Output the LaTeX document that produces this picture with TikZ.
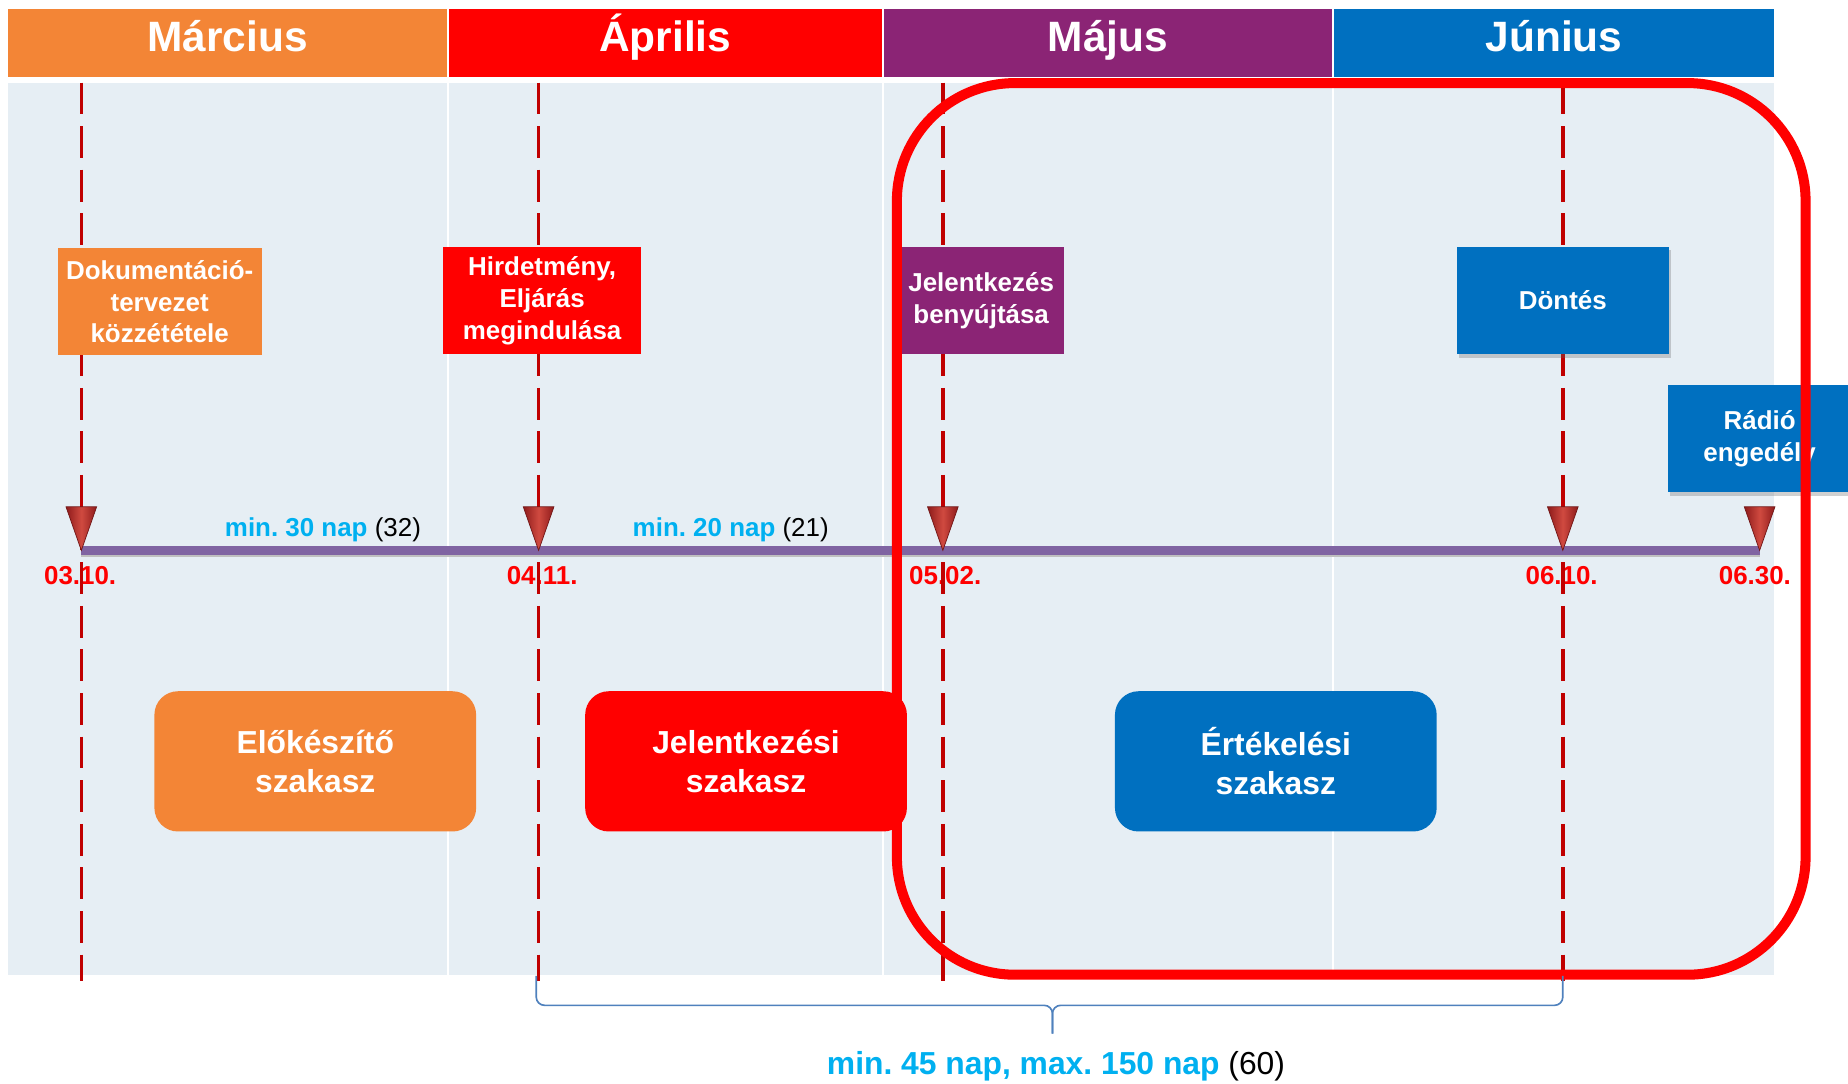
\documentclass[tikz,border=0pt]{standalone}
\usepackage{fontspec}
\setmainfont{Liberation Sans}
\usetikzlibrary{shadows}
\frenchspacing
\definecolor{morange}{HTML}{F38536}
\definecolor{mred}{HTML}{FF0000}
\definecolor{mpurple}{HTML}{8B2475}
\definecolor{mblue}{HTML}{0070C0}
\definecolor{panel}{HTML}{E6EEF4}
\definecolor{ddred}{HTML}{C00000}
\definecolor{tline}{HTML}{8064A2}
\definecolor{cyantext}{HTML}{00B0F0}
\definecolor{bracecol}{HTML}{4F81BD}
\definecolor{trilight}{HTML}{D04A40}
\definecolor{tridark}{HTML}{8E1B1B}
\begin{document}
\begin{tikzpicture}[x=1pt,y=-1pt,
  month/.style={font=\fontsize{36}{40}\selectfont\bfseries, text=white, anchor=base},
  evbox/.style={font=\fontsize{22}{27}\selectfont\bfseries, text=white, align=center, inner sep=0pt, minimum height=91pt},
  phasebox/.style={rounded corners=20pt, font=\fontsize{27}{33}\selectfont\bfseries, text=white, align=center, inner sep=0pt, minimum width=273pt, minimum height=119pt},
  datelbl/.style={font=\fontsize{22}{26}\selectfont\bfseries, text=mred, anchor=base},
  durlbl/.style={font=\fontsize{22}{26}\selectfont\bfseries, text=cyantext, anchor=base},
  vdash/.style={ddred, line width=3pt, dash pattern=on 27pt off 10pt},
  shad/.style={drop shadow={shadow xshift=2pt, shadow yshift=-3pt, opacity=0.3, fill=black!60}},
  marker/.pic={\shade[left color=tridark, right color=tridark, middle color=trilight] (-13,-37) -- (13,-37) -- (0,0) -- cycle;
               \draw[tridark!80!black, line width=0.6pt] (-13,-37) -- (13,-37) -- (0,0) -- cycle;}
]
\useasboundingbox (0,0) rectangle (1568,919);
\clip (0,0) rectangle (1568,919);
\fill[white] (0,0) rectangle (1568,919);

% month header bars
\fill[morange] (7,8) rectangle (379,65);
\fill[mred] (381,8) rectangle (748,65);
\fill[mpurple] (750,8) rectangle (1130,65);
\fill[mblue] (1132,8) rectangle (1505,65);
\node[month] (mar) at (193,43.5) {Március};
\node[month] (apr) at (564.5,43.5) {Április};
\node[month] (maj) at (940,43.5) {Május};
\node[month] (jun) at (1318.5,43.5) {Június};

% panel
\fill[panel] (7,70) rectangle (1505,827);
\draw[white, line width=2pt] (380,70) -- (380,827);
\draw[white, line width=2pt] (749,70) -- (749,827);
\draw[white, line width=2pt] (1131,70) -- (1131,827);

% date labels
\node[datelbl] (d1) at (68,496) {03.10.};
\node[datelbl] (d2) at (460,496) {04.11.};
\node[datelbl] (d3) at (802,496) {05.02.};
\node[datelbl] (d4) at (1325,496) {06.10.};
\node[datelbl] (d5) at (1489,496) {06.30.};

% dashed milestone lines
\coordinate (a1) at (69,70);   \coordinate (b1) at (69,832);
\coordinate (a2) at (457,70);  \coordinate (b2) at (457,832);
\coordinate (a3) at (800,70);  \coordinate (b3) at (800,832);
\coordinate (a4) at (1326,70); \coordinate (b4) at (1326,832);
\draw[vdash] (a1) -- (b1);
\draw[vdash] (a2) -- (b2);
\draw[vdash] (a3) -- (b3);
\draw[vdash] (a4) -- (b4);

% timeline
\coordinate (t1) at (69,467);
\coordinate (t2) at (457,467);
\coordinate (t3) at (800,467);
\coordinate (t4) at (1326,467);
\coordinate (t5) at (1493,467);
\draw[black!25, line width=7pt] ([yshift=-2pt]t1) -- ([yshift=-2pt]t5);
\draw[tline, line width=7pt] (t1) -- (t5);
\pic at (t1) {marker};
\pic at (t2) {marker};
\pic at (t3) {marker};
\pic at (t4) {marker};
\pic at (t5) {marker};

% duration labels
\node[durlbl] (dur1) at (274,455) {min. 30 nap {\mdseries\color{black}(32)}};
\node[durlbl] (dur2) at (620,455) {min. 20 nap {\mdseries\color{black}(21)}};

% event boxes
\node[evbox, fill=morange, minimum width=173pt] (dok) at (135.5,256) {Dokumentáció-\\tervezet\\közzététele};
\node[evbox, fill=mred, minimum width=168pt] (hir) at (460,255) {Hirdetmény,\\Eljárás\\megindulása};
\node[evbox, fill=mpurple, minimum width=141pt] (jel) at (832.5,255) {Jelentkezés\\benyújtása};
\node[evbox, fill=mblue, minimum width=180pt, shad] (don) at (1326,255) {Döntés};
\node[evbox, fill=mblue, minimum width=156pt, shad] (rad) at (1493,372) {Rádió\\engedély};

% phase boxes
\node[phasebox, fill=morange] (elo) at (267.5,646) {Előkészítő\\szakasz};
\node[phasebox, fill=mred] (jsz) at (633,646) {Jelentkezési\\szakasz};
\node[phasebox, fill=mblue] (ert) at (1082.5,646) {Értékelési\\szakasz};

% highlight frame
\draw[mred, line width=8.5pt, rounded corners=100pt] (761,70.5) rectangle (1532,827);

% brace
\coordinate (bl) at (455,828);
\coordinate (br) at (1326,828);
\coordinate (btip) at (893,877);
\draw[bracecol, line width=1.4pt, rounded corners=7pt] (bl) -- (455,853) -- (893,853) -- (btip);
\draw[bracecol, line width=1.4pt, rounded corners=7pt] (br) -- (1326,853) -- (893,853) -- (btip);
\node[font=\fontsize{27}{32}\selectfont\bfseries, text=cyantext, anchor=base] (total) at (896,912) {min. 45 nap, max. 150 nap {\mdseries\color{black}(60)}};
\end{tikzpicture}
\end{document}
